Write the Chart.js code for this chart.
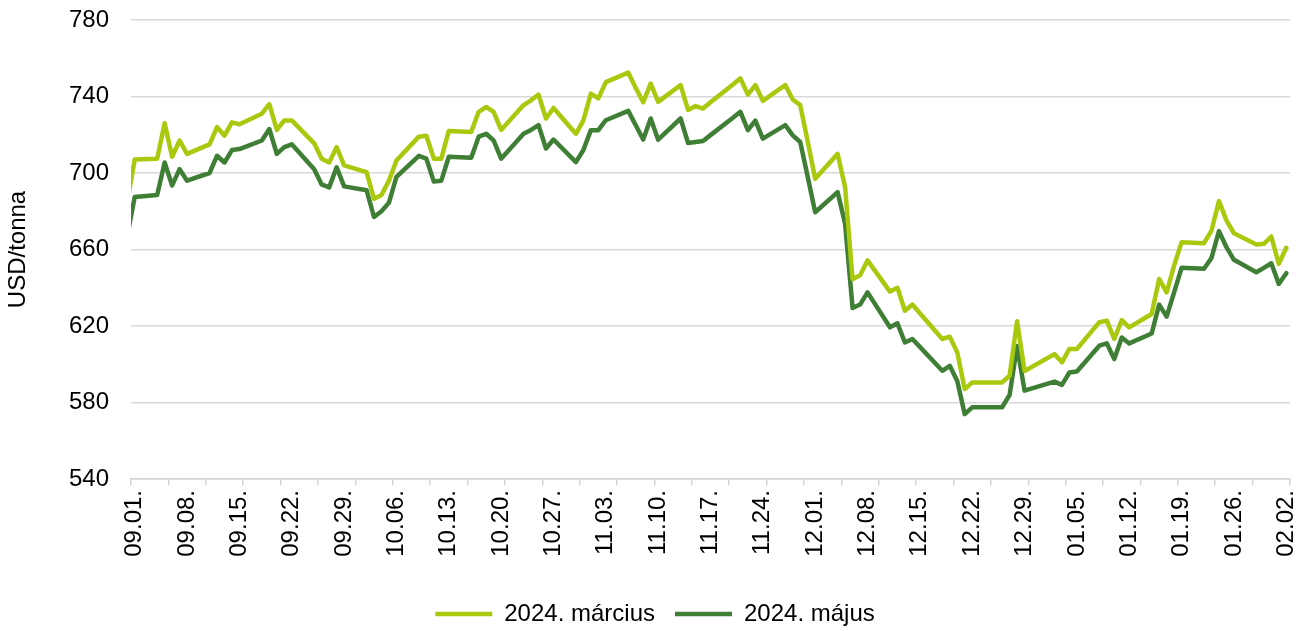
<!DOCTYPE html>
<html lang="hu">
<head>
<meta charset="UTF-8">
<title>Határidős árak – 2024. március / május</title>
<script src="https://cdn.jsdelivr.net/npm/chart.js"></script>
<style>
  html, body { margin: 0; padding: 0; background: #fff; }
  canvas { display: block; }
</style>
</head>
<body>
<canvas id="chart" width="1307" height="631"></canvas>
<script>
// trading days (the first one lies just left of the visible axis)
const dates = [
  '2023-08-31', '2023-09-01',
  '2023-09-04', '2023-09-05', '2023-09-06', '2023-09-07', '2023-09-08',
  '2023-09-11', '2023-09-12', '2023-09-13', '2023-09-14', '2023-09-15',
  '2023-09-18', '2023-09-19', '2023-09-20', '2023-09-21', '2023-09-22',
  '2023-09-25', '2023-09-26', '2023-09-27', '2023-09-28', '2023-09-29',
  '2023-10-02', '2023-10-03', '2023-10-04', '2023-10-05', '2023-10-06',
  '2023-10-09', '2023-10-10', '2023-10-11', '2023-10-12', '2023-10-13',
  '2023-10-16', '2023-10-17', '2023-10-18', '2023-10-19', '2023-10-20',
  '2023-10-23', '2023-10-24', '2023-10-25', '2023-10-26', '2023-10-27',
  '2023-10-30', '2023-10-31', '2023-11-01', '2023-11-02', '2023-11-03',
  '2023-11-06', '2023-11-07', '2023-11-08', '2023-11-09', '2023-11-10',
  '2023-11-13', '2023-11-14', '2023-11-15', '2023-11-16', '2023-11-17',
  '2023-11-20', '2023-11-21', '2023-11-22', '2023-11-23', '2023-11-24',
  '2023-11-27', '2023-11-28', '2023-11-29', '2023-11-30', '2023-12-01',
  '2023-12-04', '2023-12-05', '2023-12-06', '2023-12-07', '2023-12-08',
  '2023-12-11', '2023-12-12', '2023-12-13', '2023-12-14', '2023-12-15',
  '2023-12-18', '2023-12-19', '2023-12-20', '2023-12-21', '2023-12-22',
  '2023-12-26', '2023-12-27', '2023-12-28', '2023-12-29',
  '2024-01-02', '2024-01-03', '2024-01-04', '2024-01-05',
  '2024-01-08', '2024-01-09', '2024-01-10', '2024-01-11', '2024-01-12',
  '2024-01-15', '2024-01-16', '2024-01-17', '2024-01-18', '2024-01-19',
  '2024-01-22', '2024-01-23', '2024-01-24', '2024-01-25', '2024-01-26',
  '2024-01-29', '2024-01-30', '2024-01-31', '2024-02-01', '2024-02-02'
];

const marcius = [
  685, 707,
  707.5, 726, 708.5, 717, 710,
  715, 724, 719.5, 726.5, 725.5,
  731, 736, 722.5, 727.5, 727.5,
  715.5, 707.5, 705.5, 713.5, 704,
  700.5, 686.5, 688.5, 696, 706.5,
  719, 719.5, 707.5, 707.5, 722,
  721.5, 732, 734.5, 732, 722.5,
  735.5, 738, 741, 728.5, 734,
  720.5, 727.5, 741.5, 739, 747.5,
  752.5, 744.5, 737, 746.8, 737.2,
  746, 733, 735, 733.7, 737,
  746.3, 749.5, 741, 746, 737.7,
  746, 738.4, 735.5, 716.5, 697,
  710, 692.6, 644.5, 646.5, 654.3,
  638, 640, 628, 631.2, 626.7,
  613.2, 614.4, 606.2, 587, 590.5,
  590.5, 594, 622.5, 596.5,
  605.3, 601, 608, 608,
  622, 622.8, 613.2, 623.1, 619.3,
  626.3, 644.6, 637.6, 651.6, 663.8,
  663.3, 669.9, 685.3, 675.2, 668.5,
  662.6, 663, 666.8, 652.5, 660.9
];

const majus = [
  667, 687.5,
  688.5, 705.5, 693.5, 702, 696,
  700, 709, 705.5, 712, 712.5,
  717, 723, 710, 713.5, 715,
  702, 694, 692.5, 703, 693,
  691, 677, 680, 684.5, 698,
  709, 707.5, 695.5, 696, 708.5,
  708, 719, 720.5, 717, 707.5,
  720.5, 722.5, 725, 712.8, 717.5,
  705.7, 712, 722.4, 722.4, 727.6,
  732.5, 725, 717.5, 728.5, 717.4,
  728.5, 715.7, 716.2, 716.7, 719.8,
  728.9, 732, 722.4, 727.4, 718,
  725, 719.7, 716.2, 698, 679.5,
  690, 673.5, 629.4, 631.2, 637.6,
  619.3, 621.4, 611.4, 613.2, 609.1,
  596.6, 599.2, 591.3, 573.9, 577.5,
  577.5, 584, 609.5, 586.2,
  590.9, 589.2, 595.7, 596.2,
  609.7, 610.9, 602.7, 614, 610.9,
  616.1, 631.2, 624.9, 637.6, 650.4,
  649.9, 655.6, 669.6, 661.2, 654.6,
  648.1, 650.4, 652.8, 642, 647.6
];

// weekly axis labels, one every 7 days from 09.01.
const xLabels = [
  '09.01.', '09.08.', '09.15.', '09.22.', '09.29.', '10.06.', '10.13.', '10.20.',
  '10.27.', '11.03.', '11.10.', '11.17.', '11.24.', '12.01.', '12.08.', '12.15.',
  '12.22.', '12.29.', '01.05.', '01.12.', '01.19.', '01.26.', '02.02.'
];

const yMin = 540, yMax = 780, yStep = 40;

const DAY = 86400000;
const start = Date.parse('2023-09-01');
const toDay = s => (Date.parse(s) - start) / DAY;
const points = vals => dates.map((d, i) => ({ x: toDay(d), y: vals[i] }));

// small tick marks every 5 days, on the day boundaries
const lastDay = (xLabels.length - 1) * 7;
const tickMarks = [];
for (let v = -0.5; v <= lastDay + 0.5; v += 5) tickMarks.push(v);

Chart.defaults.font.family = "'Liberation Sans', Arial, sans-serif";
Chart.defaults.font.size = 24;
Chart.defaults.color = '#000';

const lineStyle = color => ({
  borderColor: color,
  backgroundColor: color,
  borderWidth: 4.5,
  pointRadius: 0,
  pointHoverRadius: 0,
  tension: 0,
  borderJoinStyle: 'round',
  borderCapStyle: 'round',
  clip: 0
});

// nudge the legend a little right, like the original
const legendShift = {
  id: 'legendShift',
  afterLayout(chart) {
    chart.legend.left += 10;
    chart.legend.right += 10;
  }
};

new Chart(document.getElementById('chart'), {
  type: 'line',
  data: {
    datasets: [
      { label: '2024. március', data: points(marcius), ...lineStyle('#a9c90f') },
      { label: '2024. május', data: points(majus), ...lineStyle('#3f7e35') }
    ]
  },
  options: {
    responsive: false,
    animation: false,
    layout: { padding: { top: 20, right: 17, bottom: -5, left: 0 } },
    plugins: {
      tooltip: { enabled: false },
      legend: {
        position: 'bottom',
        labels: {
          usePointStyle: true,
          pointStyle: 'line',
          pointStyleWidth: 57,
          padding: 20,
          color: '#000',
          font: { size: 24 }
        }
      }
    },
    scales: {
      x: {
        type: 'linear',
        min: -0.5,
        max: lastDay + 0.5,
        afterBuildTicks: scale => {
          const vals = xLabels.map((_, i) => i * 7).concat(tickMarks);
          scale.ticks = vals.sort((a, b) => a - b).map(v => ({ value: v }));
        },
        afterFit: scale => {
          scale.height = 103;
          scale.paddingLeft = 0;
          scale.paddingRight = 0;
        },
        ticks: {
          autoSkip: false,
          minRotation: 90,
          maxRotation: 90,
          padding: 5,
          color: '#000',
          callback: v => (Number.isInteger(v) && v % 7 === 0) ? xLabels[v / 7] : ''
        },
        grid: {
          drawOnChartArea: false,
          tickLength: 6,
          lineWidth: 1.5,
          tickColor: ctx => (ctx.tick && Number.isInteger(ctx.tick.value)) ? 'rgba(0,0,0,0)' : '#d3d3d3'
        },
        border: { color: '#d3d3d3', width: 1.5 }
      },
      y: {
        min: yMin,
        max: yMax,
        ticks: { stepSize: yStep, padding: 22, color: '#000' },
        grid: { color: '#d9d9d9', lineWidth: 1.5, drawTicks: false },
        border: { display: false },
        title: {
          display: true,
          text: 'USD/tonna',
          color: '#000',
          font: { size: 24 },
          padding: { top: 4, bottom: 0 }
        },
        afterFit: scale => {
          scale.width = 131;
          scale.paddingTop = 0;
          scale.paddingBottom = 0;
        }
      }
    }
  },
  plugins: [legendShift]
});
</script>
</body>
</html>
